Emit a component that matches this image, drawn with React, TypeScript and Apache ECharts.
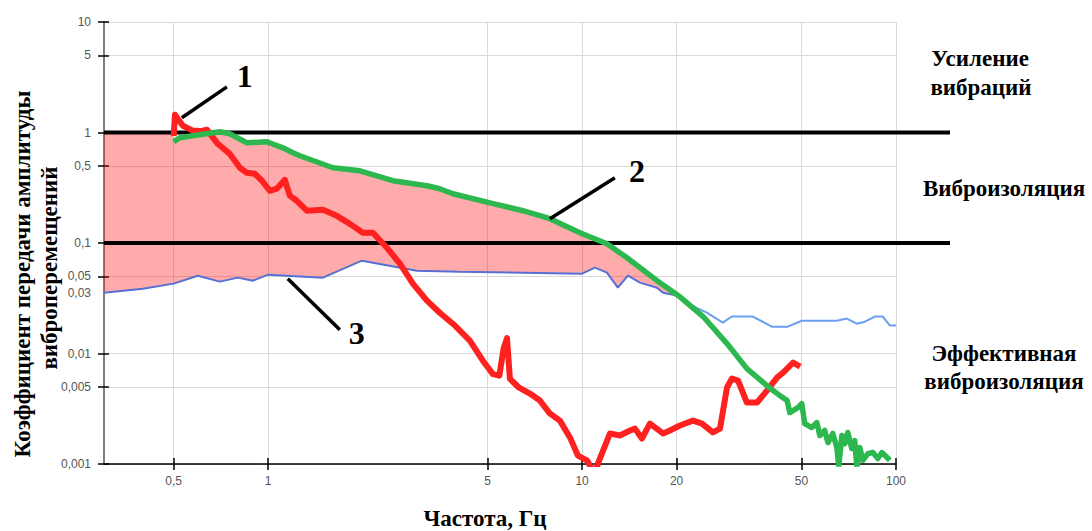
import React, { useEffect, useRef } from 'react';
import * as echarts from 'echarts';

// ---- axis ticks / labels ----
const xTickValues = [0.5, 1, 5, 10, 20, 50, 100];
const xTickLabels = ['0,5', '1', '5', '10', '20', '50', '100'];
const yTickValues = [0.001, 0.005, 0.01, 0.05, 0.1, 0.5, 1, 5, 10];
const yLabelValues = [0.001, 0.005, 0.01, 0.0356, 0.05, 0.1, 0.5, 1, 5, 10];
const yLabelTexts = ['0,001', '0,005', '0,01', '0,03', '0,05', '0,1', '0,5', '1', '5', '10'];

// ---- curve 1 (red) ----
const redCurve: [number, number][] = [
  [0.5, 0.93], [0.505, 1.45], [0.535, 1.15], [0.575, 1.04], [0.61, 1.03], [0.638, 1.06],
  [0.691, 0.79], [0.755, 0.64], [0.813, 0.48], [0.855, 0.432], [0.907, 0.423], [0.955, 0.366],
  [1.013, 0.297], [1.066, 0.31], [1.13, 0.373], [1.172, 0.268], [1.234, 0.241], [1.328, 0.196],
  [1.494, 0.2], [1.655, 0.176], [1.821, 0.149], [2.003, 0.124], [2.156, 0.124], [2.389, 0.0907],
  [2.628, 0.065], [2.891, 0.0429], [3.204, 0.0301], [3.52, 0.0234], [3.935, 0.0179], [4.39, 0.0131],
  [4.83, 0.0086], [5.2, 0.0065], [5.45, 0.0063], [5.62, 0.011], [5.765, 0.0138], [5.89, 0.0059],
  [6.3, 0.0049], [6.82, 0.00434], [7.34, 0.00375], [7.9, 0.00286], [8.5, 0.00247], [9.15, 0.00174],
  [9.7, 0.00119], [10.36, 0.00108], [11.0, 0.0008], [11.23, 0.00101], [12.27, 0.00189], [13.2, 0.00181],
  [14.21, 0.00201], [14.74, 0.00209], [15.51, 0.0017], [16.45, 0.00232], [18.1, 0.00189], [19.05, 0.00201],
  [20.5, 0.00223], [22.56, 0.00247], [24.1, 0.00232], [26.1, 0.00193], [27.5, 0.00209], [28.95, 0.00492],
  [30.0, 0.00593], [31.4, 0.00568], [33.5, 0.0036], [36.1, 0.0036], [38.8, 0.00462], [41.8, 0.00606],
  [43.7, 0.00672], [47.0, 0.00827], [49.5, 0.00762],
];

// ---- curve 2 (green) ----
const greenCurve: [number, number][] = [
  [0.5, 0.824], [0.523, 0.896], [0.606, 0.953], [0.702, 1.015], [0.755, 0.973], [0.855, 0.807],
  [0.99, 0.824], [1.114, 0.727], [1.199, 0.655], [1.262, 0.616], [1.608, 0.48], [1.96, 0.45],
  [2.496, 0.366], [3.204, 0.33], [3.52, 0.31], [3.878, 0.279], [5.088, 0.231], [6.48, 0.196],
  [7.9, 0.166], [9.84, 0.124], [12.0, 0.0986], [13.9, 0.0736], [17.33, 0.0456], [20.5, 0.0326],
  [24.3, 0.0216], [28.95, 0.0123], [33.5, 0.0073], [38.8, 0.00513], [40.6, 0.00462], [42.5, 0.0042],
  [45.0, 0.00375], [45.9, 0.00292], [48.7, 0.00324], [50.1, 0.00352], [51.2, 0.00232], [53.9, 0.00214],
  [55.96, 0.00237], [57.2, 0.00181], [59.3, 0.00201], [60.7, 0.00156], [62.9, 0.00189], [64.8, 0.00141],
  [65.7, 0.00095], [67.2, 0.00181], [68.7, 0.00153], [70.2, 0.00193], [72.3, 0.00138], [73.9, 0.00163],
  [75.0, 0.00095], [76.7, 0.00141], [78.4, 0.00108], [81.4, 0.00124], [84.4, 0.00127], [87.5, 0.00112],
  [90.2, 0.00127], [93.5, 0.00115], [95.6, 0.00108],
];

// ---- curve 3 (blue) ----
const blueCurve: [number, number][] = [
  [0.3, 0.0355], [0.399, 0.0386], [0.5, 0.0429], [0.597, 0.0506], [0.702, 0.0447], [0.801, 0.0486],
  [0.894, 0.0456], [1.0, 0.0517], [1.494, 0.0486], [1.989, 0.0692], [2.977, 0.0562], [4.08, 0.055],
  [9.99, 0.0528], [10.99, 0.0598], [12.0, 0.0539], [13.0, 0.0394], [14.0, 0.0506], [15.29, 0.0438],
  [17.33, 0.0394], [18.1, 0.0355], [20.06, 0.0334], [21.6, 0.0288], [23.2, 0.0259], [24.97, 0.0234],
  [28.08, 0.019], [30.0, 0.0216], [34.99, 0.0216], [40.2, 0.0175], [45.2, 0.0175], [50.1, 0.0198],
  [64.8, 0.0198], [69.7, 0.0207], [75.0, 0.0186], [79.6, 0.0194], [85.6, 0.0216], [90.8, 0.0216],
  [95.6, 0.0179], [100, 0.0179],
];

// ---- zone boundaries ----
const thresholdLevels = [1, 0.1];
const pinkStartX = 0.3;
const pinkEndX = 20.5;
const blueSplitX = 21.6;

// ---- annotations (data space) ----
const annotationNames = ['1', '2', '3'];
const annotationFrom: [number, number][] = [[0.531, 1.36], [7.9, 0.166], [1.155, 0.0475]];
const annotationTo: [number, number][] = [[0.739, 2.59], [12.72, 0.389], [1.692, 0.01644]];
const annotationText: [number, number][] = [[0.843, 3.25], [14.95, 0.45], [1.917, 0.01545]];

// ---- texts ----
const yTitleLines = ['Коэффициент передачи амплитуды', 'виброперемещений'];
const xTitle = 'Частота, Гц';
const zoneLabels = ['Усиление', 'вибраций', 'Виброизоляция', 'Эффективная', 'виброизоляция'];

export default function App() {
  const ref = useRef<HTMLDivElement>(null);
  useEffect(() => {
    const chart = echarts.init(ref.current!, null, { renderer: 'svg' });
    const serif = '"Liberation Serif", "Times New Roman", serif';
    const sans = '"Liberation Sans", Arial, sans-serif';
    const near = (a: number, b: number) => Math.abs(Math.log10(a) - Math.log10(b)) < 1e-3;
    const fmtX = (v: number) => {
      const i = xTickValues.findIndex((t) => near(t, v));
      return i >= 0 ? xTickLabels[i] : '';
    };
    const fmtY = (v: number) => {
      const i = yLabelValues.findIndex((t) => near(t, v));
      return i >= 0 ? yLabelTexts[i] : '';
    };

    const pinkTop: [number, number][] = [
      [pinkStartX, thresholdLevels[0]],
      [greenCurve[0][0], thresholdLevels[0]],
      ...greenCurve.filter((p) => p[0] <= pinkEndX),
    ];
    const pinkBottom: [number, number][] = blueCurve.filter((p) => p[0] <= pinkEndX);

    const blueInside = blueCurve.filter((p) => p[0] <= blueSplitX);
    const blueOutside = blueCurve.filter((p) => p[0] >= blueSplitX);

    const textStyle = (size: number, align: string = 'center') => ({
      fontSize: size,
      fontWeight: 'bold',
      fontFamily: serif,
      fill: '#000',
      textAlign: align,
      align: align,
      textVerticalAlign: 'middle',
      verticalAlign: 'middle',
    });

    const tickStyle = { color: '#000', width: 1.5 };

    const option: any = {
      animation: false,
      backgroundColor: '#fff',
      grid: [
        { left: 104, right: 196, top: 22, bottom: 67, containLabel: false },
        { left: 104, right: 142, top: 22, bottom: 67, containLabel: false },
      ],
      xAxis: [
        {
          type: 'log',
          gridIndex: 0,
          position: 'bottom',
          logBase: 10,
          min: 0.3,
          max: 100,
          axisLine: { show: true, onZero: false, lineStyle: { color: '#000', width: 1.5 } },
          axisTick: { show: true, customValues: xTickValues, length: 6, lineStyle: tickStyle },
          axisLabel: { show: true, customValues: xTickValues, formatter: fmtX, color: '#555', fontSize: 12, fontFamily: sans, margin: 11 },
          splitLine: { show: true, lineStyle: { color: '#d9d9d9', width: 1 } },
          minorTick: { show: false },
          minorSplitLine: { show: false },
        },
        { type: 'value', gridIndex: 1, min: 0, max: 1, show: false },
        {
          type: 'log',
          gridIndex: 0,
          position: 'bottom',
          logBase: 10,
          min: 0.3,
          max: 100,
          axisLine: { show: false, onZero: false },
          axisTick: { show: true, inside: true, customValues: xTickValues, length: 6, lineStyle: tickStyle },
          axisLabel: { show: false },
          splitLine: { show: false },
        },
      ],
      yAxis: [
        {
          type: 'log',
          gridIndex: 0,
          position: 'left',
          logBase: 10,
          min: 0.001,
          max: 10,
          axisLine: { show: true, onZero: false, lineStyle: { color: '#808080', width: 2 } },
          axisTick: { show: true, customValues: yTickValues, length: 6, lineStyle: tickStyle },
          axisLabel: { show: true, customValues: yLabelValues, formatter: fmtY, color: '#555', fontSize: 12, fontFamily: sans, margin: 13 },
          splitLine: { show: true, lineStyle: { color: '#d9d9d9', width: 1 } },
          minorTick: { show: false },
          minorSplitLine: { show: false },
        },
        { type: 'log', gridIndex: 1, logBase: 10, min: 0.001, max: 10, show: false },
        {
          type: 'log',
          gridIndex: 0,
          position: 'left',
          logBase: 10,
          min: 0.001,
          max: 10,
          axisLine: { show: false, onZero: false },
          axisTick: { show: true, inside: true, customValues: yTickValues, length: 5, lineStyle: tickStyle },
          axisLabel: { show: false },
          splitLine: { show: false },
        },
      ],
      series: [
        {
          type: 'custom',
          name: 'zone',
          xAxisIndex: 0,
          yAxisIndex: 0,
          silent: true,
          data: [[greenCurve[0][0], greenCurve[0][1]]],
          renderItem: (_params: any, api: any) => {
            const pts = pinkTop.map((p) => api.coord(p)).concat(pinkBottom.slice().reverse().map((p) => api.coord(p)));
            return { type: 'polygon', shape: { points: pts }, style: { fill: 'rgba(255,0,0,0.33)' } };
          },
        },
        ...thresholdLevels.map((lv) => ({
          type: 'line',
          xAxisIndex: 1,
          yAxisIndex: 1,
          silent: true,
          symbol: 'none',
          data: [[0, lv], [1, lv]],
          lineStyle: { color: '#000', width: 4 },
        })),
        {
          type: 'line',
          name: '3a',
          xAxisIndex: 0,
          yAxisIndex: 0,
          symbol: 'none',
          data: blueInside,
          lineStyle: { color: '#5670d4', width: 2 },
        },
        {
          type: 'line',
          name: '3b',
          xAxisIndex: 0,
          yAxisIndex: 0,
          symbol: 'none',
          data: blueOutside,
          lineStyle: { color: '#6a9ff0', width: 2 },
        },
        {
          type: 'line',
          name: '1',
          xAxisIndex: 0,
          yAxisIndex: 0,
          symbol: 'none',
          data: redCurve,
          lineStyle: { color: '#ff2020', width: 6, join: 'round' },
        },
        {
          type: 'line',
          name: '2',
          xAxisIndex: 0,
          yAxisIndex: 0,
          symbol: 'none',
          data: greenCurve,
          lineStyle: { color: '#2db84f', width: 5.5, join: 'round' },
        },
        {
          type: 'line',
          name: 'annotations',
          xAxisIndex: 0,
          yAxisIndex: 0,
          symbol: 'none',
          data: [],
          markLine: {
            silent: true,
            symbol: ['none', 'none'],
            label: { show: false },
            lineStyle: { color: '#000', width: 3.5, type: 'solid' },
            data: annotationFrom.map((f, i) => [{ coord: f }, { coord: annotationTo[i] }]),
          },
          markPoint: {
            silent: true,
            symbol: 'circle',
            symbolSize: 1,
            itemStyle: { color: 'rgba(0,0,0,0)' },
            label: { show: true, position: 'inside', color: '#000', fontSize: 32, fontWeight: 'bold', fontFamily: serif, formatter: (p: any) => p.name },
            data: annotationText.map((c, i) => ({ name: annotationNames[i], coord: c })),
          },
        },
      ],
      graphic: [
        { type: 'text', x: 22, y: 274, rotation: Math.PI / 2, style: { text: yTitleLines[0], ...textStyle(23) } },
        { type: 'text', x: 49, y: 268, rotation: Math.PI / 2, style: { text: yTitleLines[1], ...textStyle(23) } },
        { type: 'text', x: 485, y: 518, style: { text: xTitle, ...textStyle(23) } },
        { type: 'text', x: 980, y: 58, style: { text: zoneLabels[0], ...textStyle(23) } },
        { type: 'text', x: 981, y: 87, style: { text: zoneLabels[1], ...textStyle(23) } },
        { type: 'text', x: 1004, y: 188, style: { text: zoneLabels[2], ...textStyle(23) } },
        { type: 'text', x: 1004, y: 353, style: { text: zoneLabels[3], ...textStyle(23) } },
        { type: 'text', x: 1004, y: 381, style: { text: zoneLabels[4], ...textStyle(23) } },
      ],
    };
    chart.setOption(option);
    return () => chart.dispose();
  }, []);
  return <div ref={ref} style={{ position: 'absolute', left: 0, top: 0, width: 1092, height: 531 }} />;
}
